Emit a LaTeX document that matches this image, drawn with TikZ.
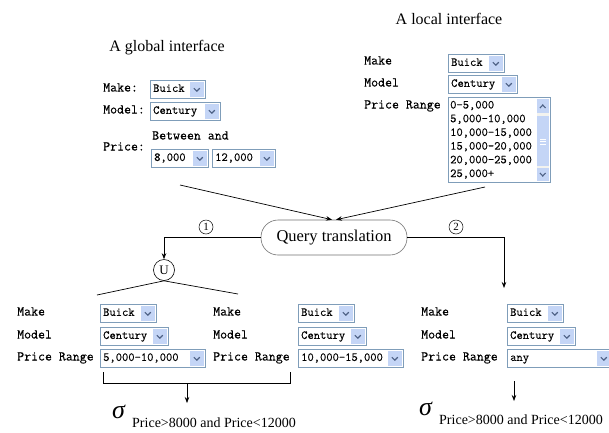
\documentclass[tikz,border=0pt]{standalone}
\usepackage{fontspec}
\setmainfont{Liberation Serif}
\newfontfamily\monof{Latin Modern Mono}[FakeBold=0.35]
\usetikzlibrary{arrows.meta}
\definecolor{boxblue}{HTML}{7F9DB9}
\definecolor{btnblue}{HTML}{C4D5F6}
\definecolor{chevblue}{HTML}{4D6185}
\definecolor{trackc}{HTML}{F3F3EF}
\tikzset{
  lbl/.style={font=\monof\fontsize{13.5}{14}\selectfont, anchor=west, inner sep=0pt, text height=7.5pt, text depth=2.5pt},
  cbx/.style={draw=boxblue, fill=white, line width=0.8pt, anchor=north west, inner sep=0pt},
  cbtext/.style={font=\monof\fontsize{12.2}{12.5}\selectfont, anchor=west, inner sep=0pt, text height=7pt, text depth=2pt},
  chev/.style={draw=chevblue, line width=1.1pt},
  conn/.style={line width=0.7pt, -{Stealth[length=6pt,width=4.5pt]}},
  ttl/.style={font=\fontsize{16}{18}\selectfont, inner sep=0pt},
  qtbox/.style={draw=black!55, line width=0.6pt, rounded corners=17pt, minimum width=146pt, minimum height=35pt, font=\fontsize{16.5}{18}\selectfont},
  cnum/.style={circle, draw, line width=0.5pt, minimum size=14pt, inner sep=0pt, font=\fontsize{11}{11}\selectfont},
  ucirc/.style={circle, draw, line width=0.6pt, minimum size=21pt, inner sep=0pt, font=\fontsize{13}{13}\selectfont},
  sig/.style={font=\itshape\fontsize{26}{26}\selectfont, inner sep=0pt},
  sigsub/.style={font=\fontsize{14}{14}\selectfont, inner sep=0pt},
}
\newcommand{\combo}[6]{%
  \node[cbx, minimum width=#4pt, minimum height=#5pt] (#1) at (#2,#3) {};
  \fill[btnblue] ([xshift=-16pt,yshift=-2pt]#1.north east) rectangle ([xshift=-2pt,yshift=2pt]#1.south east);
  \draw[chev] ([xshift=-12pt,yshift=1.2pt]#1.east) -- ([xshift=-9pt,yshift=-1.8pt]#1.east) -- ([xshift=-6pt,yshift=1.2pt]#1.east);
  \node[cbtext] (#1t) at ([xshift=3pt]#1.west) {#6};
}
\begin{document}
\begin{tikzpicture}[x=1pt,y=-1pt]
\useasboundingbox (0,0) rectangle (609,432);
\fill[white] (0,0) rectangle (609,432);

% ---------- global interface ----------
\node[ttl] (gt) at (167,48) {A global interface};
\node[lbl] (gmake) at (103,89) {Make:};
\combo{gbuick}{150}{80}{55}{18}{Buick}
\node[lbl] (gmodel) at (103,111) {Model:};
\combo{gcentury}{150}{102}{70}{18}{Century}
\node[lbl] (gbetw) at (152,137) {Between and};
\node[lbl] (gprice) at (103,148) {Price:};
\combo{gfrom}{151}{149}{57}{18}{8,000}
\combo{gto}{212}{149}{63}{18}{12,000}

% ---------- local interface ----------
\node[ttl] (lt) at (449,19) {A local interface};
\node[lbl] (lmake) at (364,62) {Make};
\combo{lbuick}{448}{54}{56}{18}{Buick}
\node[lbl] (lmodel) at (364,84) {Model};
\combo{lcentury}{448}{75}{69}{18}{Century}
\node[lbl] (lprice) at (364,106) {Price Range};
\node[cbx, minimum width=102pt, minimum height=85pt] (llist) at (448,97) {};
\node[cbtext] (li1) at (450,106) {0-5,000};
\node[cbtext] (li2) at (450,119.7) {5,000-10,000};
\node[cbtext] (li3) at (450,133.4) {10,000-15,000};
\node[cbtext] (li4) at (450,147.1) {15,000-20,000};
\node[cbtext] (li5) at (450,160.8) {20,000-25,000};
\node[cbtext] (li6) at (450,174.5) {25,000+};
% scrollbar
\fill[trackc] (536.5,99) rectangle (549,181);
\fill[btnblue] (536.5,99) rectangle (549,113);
\draw[chev] (540,108) -- (542.75,105) -- (545.5,108);
\fill[btnblue] (536.5,116) rectangle (549,166);
\draw[white, line width=0.6pt] (540,139) -- (545.5,139) (540,141.5) -- (545.5,141.5) (540,144) -- (545.5,144);
\fill[btnblue] (536.5,168) rectangle (549,181);
\draw[chev] (540,173) -- (542.75,176) -- (545.5,173);

% ---------- query translation ----------
\node[qtbox] (qt) at (334,237.5) {Query translation};
\coordinate (gsrc) at (180,185);
\coordinate (lsrc) at (485,187);
\draw[conn] (gsrc) -- ([xshift=-2pt]qt.north);
\draw[conn] (lsrc) -- ([xshift=2pt]qt.north);

\node[ucirc] (u) at (164,270) {U};
\coordinate (c3top) at (504,288);
\draw[conn] (qt.west) -| (u.north);
\draw[conn] (qt.east) -| (c3top);
\node[cnum] (n1) at (206,227) {1};
\node[cnum] (n2) at (456,227) {2};

\coordinate (ul) at (97,295);
\coordinate (ur) at (238,294);
\draw[line width=0.7pt] (ul) -- (u.south) -- (ur);

% ---------- form 1 ----------
\node[lbl] (f1make) at (17,313) {Make};
\combo{fabuick}{100}{304}{56}{18}{Buick}
\node[lbl] (f1model) at (17,336) {Model};
\combo{facentury}{100}{327}{68}{18}{Century}
\node[lbl] (f1price) at (17,358) {Price Range};
\combo{faprice}{100}{349}{105}{18}{5,000-10,000}

% ---------- form 2 ----------
\node[lbl] (f2make) at (213,313) {Make};
\combo{fbbuick}{298}{304}{56}{18}{Buick}
\node[lbl] (f2model) at (213,336) {Model};
\combo{fbcentury}{298}{327}{68}{18}{Century}
\node[lbl] (f2price) at (213,358) {Price Range};
\combo{fbprice}{298}{349}{105}{18}{10,000-15,000}

% ---------- form 3 ----------
\node[lbl] (f3make) at (421,313) {Make};
\combo{fcbuick}{507}{304}{56}{18}{Buick}
\node[lbl] (f3model) at (421,336) {Model};
\combo{fccentury}{507}{327}{68}{18}{Century}
\node[lbl] (f3price) at (421,358) {Price Range};
\combo{fcprice}{507}{349}{105}{18}{any}

% ---------- bracket and selections ----------
\coordinate (bl) at (103,372);
\coordinate (br) at (290,372);
\coordinate (bm) at (187,383);
\coordinate (bmt) at (187,403);
\draw[line width=0.7pt] (bl) |- (br |- bm) -- (br);
\draw[conn] (bm) -- (bmt);
\node[sig, anchor=base west] (s1) at (112,418) {σ};
\node[sigsub, anchor=base west] (s1s) at (132,427) {Price>8000 and Price<12000};

\coordinate (rat) at (514,381);
\coordinate (rab) at (514,401);
\draw[conn] (rat) -- (rab);
\node[sig, anchor=base west] (s2) at (419,415) {σ};
\node[sigsub, anchor=base west] (s2s) at (439,424) {Price>8000 and Price<12000};
\end{tikzpicture}
\end{document}
